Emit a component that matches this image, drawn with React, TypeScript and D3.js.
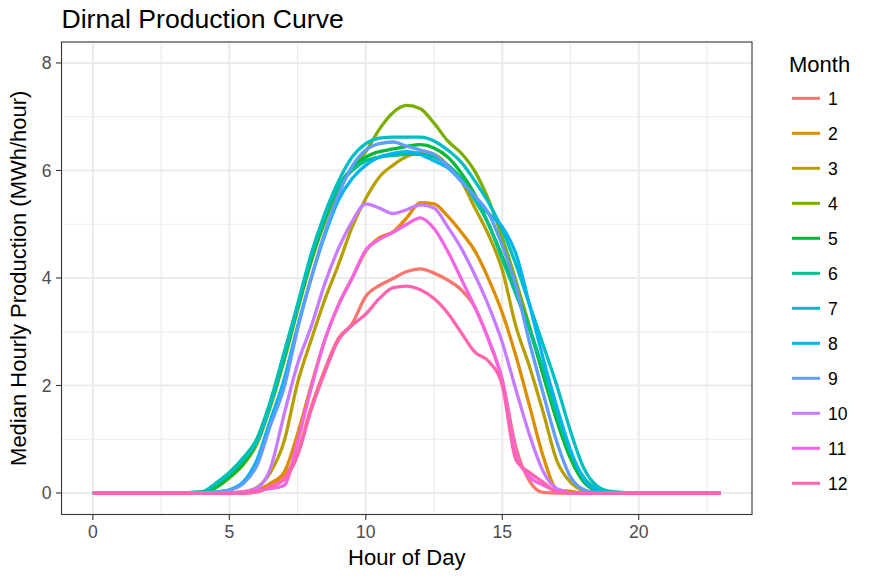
import React, { useEffect, useRef } from 'react';
import * as d3 from 'd3';

// hour grid shared by all months
const hours = [0, 1, 2, 3, 4, 4.5, 5, 5.5, 6, 6.5, 7, 7.5, 8, 8.5, 9, 9.5, 10, 10.5, 11, 11.5, 12, 12.5, 13, 13.5, 14, 14.5, 15, 15.5, 16, 16.5, 17, 17.5, 18, 18.5, 19, 20, 21, 22, 23];

const month1 = [0, 0, 0, 0, 0, 0, 0, 0, 0.02, 0.12, 0.3, 0.75, 1.6, 2.3, 2.88, 3.15, 3.66, 3.86, 3.99, 4.12, 4.17, 4.09, 3.96, 3.78, 3.45, 2.85, 2.1, 0.85, 0.22, 0.01, 0, 0, 0, 0, 0, 0, 0, 0, 0];
const month2 = [0, 0, 0, 0, 0, 0, 0, 0.01, 0.05, 0.18, 0.38, 1.1, 2.0, 2.85, 3.5, 4.0, 4.5, 4.75, 4.86, 5.12, 5.4, 5.38, 5.15, 4.85, 4.5, 3.98, 3.35, 2.55, 1.62, 0.68, 0.07, 0.03, 0, 0, 0, 0, 0, 0, 0];
const month3 = [0, 0, 0, 0, 0, 0, 0, 0.02, 0.1, 0.38, 0.95, 2.05, 2.85, 3.6, 4.25, 4.95, 5.48, 5.88, 6.1, 6.26, 6.33, 6.3, 6.1, 5.8, 5.3, 4.8, 4.15, 3.1, 2.35, 1.5, 0.6, 0.2, 0.04, 0, 0, 0, 0, 0, 0];
const month4 = [0, 0, 0, 0, 0.01, 0.1, 0.28, 0.52, 0.9, 1.6, 2.45, 3.4, 4.3, 5.05, 5.65, 6.05, 6.35, 6.77, 7.08, 7.21, 7.15, 6.88, 6.55, 6.32, 5.98, 5.45, 4.75, 3.95, 3.1, 2.2, 1.35, 0.65, 0.2, 0.04, 0, 0, 0, 0, 0];
const month5 = [0, 0, 0, 0, 0.01, 0.1, 0.3, 0.55, 0.95, 1.65, 2.5, 3.45, 4.35, 5.1, 5.7, 6.05, 6.25, 6.35, 6.4, 6.45, 6.48, 6.42, 6.25, 5.95, 5.55, 5.0, 4.4, 3.75, 3.05, 2.2, 1.35, 0.65, 0.2, 0.04, 0, 0, 0, 0, 0];
const month6 = [0, 0, 0, 0, 0.02, 0.18, 0.38, 0.65, 1.0, 1.7, 2.6, 3.5, 4.4, 5.15, 5.7, 6.0, 6.18, 6.25, 6.28, 6.3, 6.3, 6.25, 6.1, 5.85, 5.45, 5.0, 4.35, 3.7, 3.05, 2.3, 1.45, 0.75, 0.28, 0.07, 0.01, 0, 0, 0, 0];
const month7 = [0, 0, 0, 0, 0.02, 0.17, 0.36, 0.62, 0.95, 1.65, 2.55, 3.5, 4.45, 5.2, 5.8, 6.25, 6.5, 6.6, 6.62, 6.62, 6.62, 6.55, 6.38, 6.15, 5.8, 5.4, 4.9, 4.25, 3.5, 2.75, 2.0, 1.15, 0.45, 0.12, 0.03, 0, 0, 0, 0];
const month8 = [0, 0, 0, 0, 0, 0.02, 0.06, 0.2, 0.6, 1.35, 2.1, 3.1, 4.0, 4.8, 5.45, 5.85, 6.1, 6.25, 6.32, 6.35, 6.3, 6.18, 6.05, 5.8, 5.5, 5.2, 4.95, 4.45, 3.5, 2.5, 1.6, 0.8, 0.25, 0.05, 0, 0, 0, 0, 0];
const month9 = [0, 0, 0, 0, 0, 0.02, 0.05, 0.17, 0.5, 1.25, 1.95, 3.05, 4.0, 4.85, 5.55, 6.08, 6.38, 6.5, 6.53, 6.45, 6.38, 6.3, 6.08, 5.8, 5.52, 5.2, 4.6, 3.85, 2.8, 1.85, 0.95, 0.3, 0.06, 0.01, 0, 0, 0, 0, 0];
const month10 = [0, 0, 0, 0, 0, 0, 0, 0.02, 0.09, 0.45, 1.45, 2.4, 3.1, 3.9, 4.55, 5.05, 5.38, 5.3, 5.2, 5.27, 5.36, 5.3, 4.95, 4.55, 4.05, 3.48, 2.8, 1.92, 1.08, 0.4, 0.08, 0.01, 0, 0, 0, 0, 0, 0, 0];
const month11 = [0, 0, 0, 0, 0, 0, 0, 0.02, 0.05, 0.08, 0.14, 0.95, 1.95, 2.85, 3.5, 4.0, 4.52, 4.72, 4.85, 5.0, 5.12, 4.92, 4.5, 3.98, 3.45, 2.85, 2.1, 0.75, 0.3, 0.15, 0.03, 0, 0, 0, 0, 0, 0, 0, 0];
const month12 = [0, 0, 0, 0, 0, 0, 0, 0, 0.02, 0.12, 0.25, 0.7, 1.55, 2.25, 2.85, 3.12, 3.33, 3.62, 3.82, 3.85, 3.78, 3.62, 3.35, 2.98, 2.62, 2.45, 2.0, 0.62, 0.38, 0.2, 0.02, 0, 0, 0, 0, 0, 0, 0, 0];

const months = ['1', '2', '3', '4', '5', '6', '7', '8', '9', '10', '11', '12'];
const series = [month1, month2, month3, month4, month5, month6, month7, month8, month9, month10, month11, month12];
const colors = ['#F8766D', '#DE8C00', '#B79F00', '#7CAE00', '#00BA38', '#00C08B', '#00BFC4', '#00B4F0', '#619CFF', '#C77CFF', '#F564E3', '#FF64B0'];

const xTicks = [0, 5, 10, 15, 20];
const xMinor = [2.5, 7.5, 12.5, 17.5, 22.5];
const yTicks = [0, 2, 4, 6, 8];
const yMinor = [1, 3, 5, 7];

const App: React.FC = () => {
  const svgRef = useRef<SVGSVGElement>(null);

  useEffect(() => {
    if (!svgRef.current) return;
    const svg = d3.select(svgRef.current);
    svg.selectAll('*').remove();

    const width = 871;
    const height = 581;
    const left = 61.5, right = 752, top = 42, bottom = 514.5;
    const font = '"Liberation Sans", Arial, Helvetica, sans-serif';

    svg.attr('width', width).attr('height', height).style('font-family', font);

    svg.append('rect').attr('width', width).attr('height', height).attr('fill', '#ffffff');

    const x = d3.scaleLinear().domain([-1.15, 24.15]).range([left, right]);
    const y = d3.scaleLinear().domain([-0.4, 8.39]).range([bottom, top]);

    // grid
    const grid = svg.append('g');
    grid.selectAll('.xminor').data(xMinor).enter().append('line')
      .attr('x1', d => x(d)).attr('x2', d => x(d)).attr('y1', top).attr('y2', bottom)
      .attr('stroke', '#EBEBEB').attr('stroke-width', 1.1);
    grid.selectAll('.yminor').data(yMinor).enter().append('line')
      .attr('y1', d => y(d)).attr('y2', d => y(d)).attr('x1', left).attr('x2', right)
      .attr('stroke', '#EBEBEB').attr('stroke-width', 1.1);
    grid.selectAll('.xmajor').data(xTicks).enter().append('line')
      .attr('x1', d => x(d)).attr('x2', d => x(d)).attr('y1', top).attr('y2', bottom)
      .attr('stroke', '#EBEBEB').attr('stroke-width', 2.1);
    grid.selectAll('.ymajor').data(yTicks).enter().append('line')
      .attr('y1', d => y(d)).attr('y2', d => y(d)).attr('x1', left).attr('x2', right)
      .attr('stroke', '#EBEBEB').attr('stroke-width', 2.1);

    // lines
    const line = d3.line<number>()
      .x((_, i) => x(hours[i]))
      .y(d => y(d))
      .curve(d3.curveMonotoneX);

    series.forEach((vals, i) => {
      svg.append('path')
        .attr('d', line(vals) as string)
        .attr('fill', 'none')
        .attr('stroke', colors[i])
        .attr('stroke-width', 3.3)
        .attr('stroke-linejoin', 'round')
        .attr('stroke-linecap', 'butt');
    });

    // panel border
    svg.append('rect')
      .attr('x', left).attr('y', top)
      .attr('width', right - left).attr('height', bottom - top)
      .attr('fill', 'none').attr('stroke', '#333333').attr('stroke-width', 1.1);

    // axes
    const xAxis = svg.append('g');
    xTicks.forEach(t => {
      xAxis.append('line')
        .attr('x1', x(t)).attr('x2', x(t)).attr('y1', bottom).attr('y2', bottom + 5.5)
        .attr('stroke', '#333333').attr('stroke-width', 1.1);
      xAxis.append('text')
        .attr('x', x(t)).attr('y', bottom + 23.5)
        .attr('text-anchor', 'middle')
        .attr('fill', '#4D4D4D')
        .style('font-size', '17.6px')
        .text(t);
    });

    const yAxis = svg.append('g');
    yTicks.forEach(t => {
      yAxis.append('line')
        .attr('x1', left - 5.5).attr('x2', left).attr('y1', y(t)).attr('y2', y(t))
        .attr('stroke', '#333333').attr('stroke-width', 1.1);
      yAxis.append('text')
        .attr('x', left - 10).attr('y', y(t))
        .attr('dy', '0.36em')
        .attr('text-anchor', 'end')
        .attr('fill', '#4D4D4D')
        .style('font-size', '17.6px')
        .text(t);
    });

    // titles
    svg.append('text')
      .attr('x', left).attr('y', 28)
      .attr('fill', '#000000')
      .style('font-size', '26.6px')
      .text('Dirnal Production Curve');

    svg.append('text')
      .attr('x', (left + right) / 2).attr('y', 565)
      .attr('text-anchor', 'middle')
      .attr('fill', '#000000')
      .style('font-size', '22px')
      .text('Hour of Day');

    svg.append('text')
      .attr('transform', `translate(26,${(top + bottom) / 2}) rotate(-90)`)
      .attr('text-anchor', 'middle')
      .attr('fill', '#000000')
      .style('font-size', '22px')
      .text('Median Hourly Production (MWh/hour)');

    // legend
    const legend = svg.append('g');
    legend.append('text')
      .attr('x', 789).attr('y', 72)
      .attr('fill', '#000000')
      .style('font-size', '22px')
      .text('Month');

    months.forEach((m, i) => {
      const ky = 98.3 + i * 35;
      legend.append('line')
        .attr('x1', 792).attr('x2', 820).attr('y1', ky).attr('y2', ky)
        .attr('stroke', colors[i]).attr('stroke-width', 3);
      legend.append('text')
        .attr('x', 828).attr('y', ky)
        .attr('dy', '0.36em')
        .attr('fill', '#000000')
        .style('font-size', '17.6px')
        .text(m);
    });
  }, []);

  return (
    <div style={{ position: 'absolute', left: 0, top: 0 }}>
      <svg ref={svgRef}></svg>
    </div>
  );
};

export default App;
